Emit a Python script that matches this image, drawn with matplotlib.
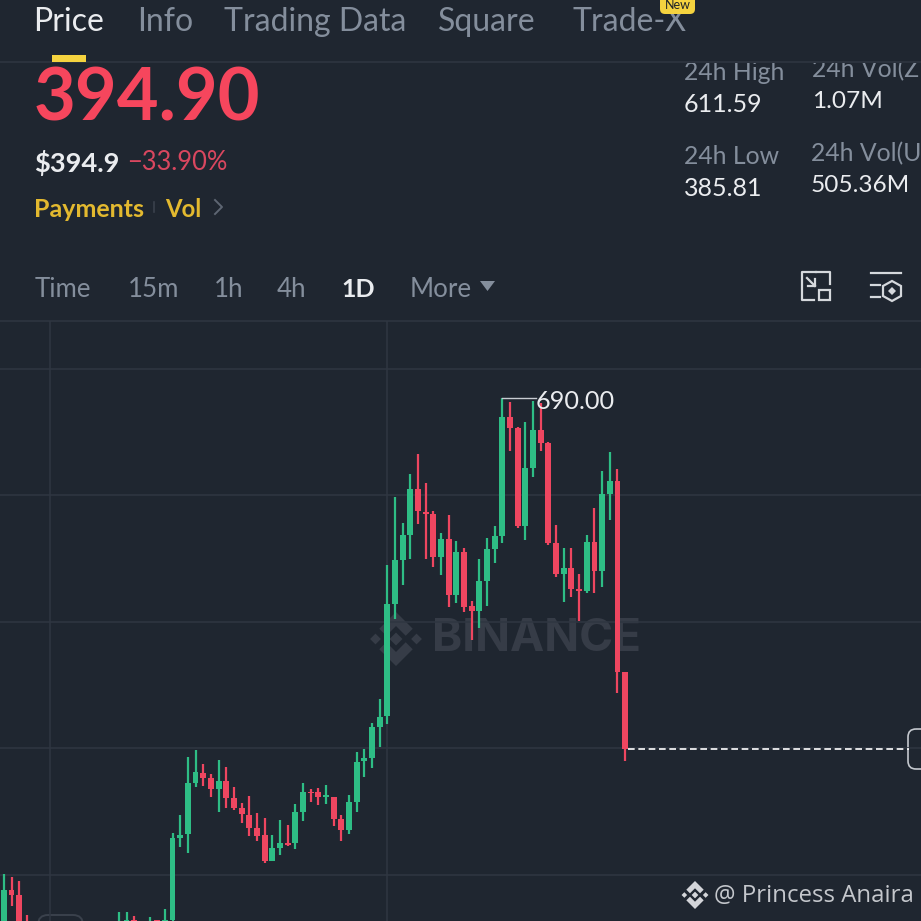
import matplotlib
matplotlib.use("Agg")
import matplotlib.pyplot as plt
from matplotlib.patches import Polygon, Rectangle, FancyBboxPatch

# Daily candles (days 4-14 and 18 sit below the crop)
days = [0, 1, 2, 3, 15, 16, 17, 19, 20, 21, 22, 23, 24, 25, 26, 27, 28, 29, 30, 31,
        32, 33, 34, 35, 36, 37, 38, 39, 40, 41, 42, 43, 44, 45, 46, 47, 48, 49, 50, 51,
        52, 53, 54, 55, 56, 57, 58, 59, 60, 61, 62, 63, 64, 65, 66, 67, 68, 69, 70, 71,
        72, 73, 74, 75, 76, 77, 78, 79, 80, 81]
opens = [246.1, 275.6, 271.4, 246.1, 240.2, 246.1, 250.3, 241.9, 250.3, 246.1, 250.3, 319.5, 322.6, 365.6, 374.5, 370.0, 361.0, 367.3, 352.9, 344.8,
         339.1, 327.9, 322.0, 300.1, 311.0, 315.5, 315.5, 341.4, 358.5, 358.0, 354.3, 354.3, 335.2, 326.2, 349.8, 384.1, 387.2, 412.8, 422.3, 516.7,
         553.8, 574.6, 613.4, 594.5, 592.9, 556.6, 571.3, 524.3, 560.3, 515.0, 511.1, 535.9, 563.3, 574.1, 674.1, 664.9, 582.5, 631.1, 663.2, 652.7,
         568.4, 542.3, 547.3, 529.4, 527.9, 568.7, 544.5, 609.7, 620.7, 459.2]
highs = [288.9, 286.8, 283.5, 254.6, 256.7, 257.1, 254.0, 252.6, 250.3, 259.4, 323.9, 339.1, 388.0, 393.6, 381.6, 373.4, 385.2, 379.6, 362.7, 348.7,
         355.1, 340.3, 336.6, 321.7, 334.6, 330.4, 347.9, 366.1, 360.5, 361.9, 363.9, 354.3, 339.1, 355.7, 391.9, 394.2, 416.1, 436.4, 549.6, 607.2,
         584.8, 626.3, 643.2, 619.0, 594.9, 576.3, 591.8, 569.6, 564.2, 519.5, 554.7, 572.1, 582.7, 690.0, 687.0, 666.2, 670.2, 687.6, 685.9, 653.0,
         583.1, 563.9, 563.7, 542.3, 575.1, 597.7, 628.8, 644.6, 630.3, 459.2]
lows = [237.7, 262.4, 237.7, 237.0, 237.0, 233.5, 237.0, 237.0, 240.0, 240.0, 246.1, 311.6, 307.1, 362.7, 363.6, 354.3, 341.6, 344.5, 343.1, 331.9,
        321.4, 317.2, 298.6, 299.8, 305.1, 312.7, 310.2, 334.1, 350.1, 347.5, 348.1, 329.6, 316.9, 323.1, 341.6, 370.5, 378.5, 396.4, 415.3, 503.8,
        533.0, 554.9, 584.2, 554.9, 548.2, 541.4, 514.5, 517.3, 510.2, 486.4, 496.2, 515.0, 551.0, 568.4, 645.5, 580.5, 570.7, 624.0, 645.5, 566.5,
        539.2, 518.4, 522.9, 502.4, 526.3, 526.3, 531.3, 587.5, 441.9, 384.6]
closes = [275.6, 271.4, 241.9, 237.7, 246.1, 250.3, 246.1, 247.8, 246.1, 250.3, 319.7, 322.2, 365.6, 374.9, 370.0, 361.0, 367.3, 352.9, 344.8, 339.4,
          327.9, 321.4, 300.1, 311.0, 315.5, 313.3, 341.4, 358.2, 357.1, 354.3, 356.0, 335.5, 326.2, 349.6, 383.8, 386.9, 412.8, 421.7, 516.7, 553.8,
          574.6, 613.4, 594.9, 592.9, 556.6, 571.3, 524.3, 560.3, 514.5, 511.1, 535.9, 563.3, 574.1, 674.1, 664.9, 582.5, 631.1, 663.2, 652.7, 568.4,
          541.8, 547.3, 529.6, 527.9, 568.7, 544.5, 609.7, 620.7, 459.2, 394.9]

grid_prices = [714.8, 608.6, 501.6, 395.3, 288.3]
grid_days = [6, 50]
last_price = 394.9
peak_price = 690.0
peak_day = 65

top_tabs = ["Price", "Info", "Trading Data", "Square", "Trade-X"]
intervals = ["Time", "15m", "1h", "4h", "1D", "More"]

BG = "#1f2630"
GRID = "#2f3641"
GREEN = "#2ebd85"
RED = "#ee4660"
GREY = "#848e9c"
WHITE = "#eaecef"
YELLOW = "#e3b92f"

plt.rcParams["font.family"] = ["Lato", "DejaVu Sans"]

fig = plt.figure(figsize=(9.21, 9.21), dpi=100, facecolor=BG)

# overlay in screen pixels for the app chrome
ui = fig.add_axes([0, 0, 1, 1], zorder=0)
ui.set_xlim(0, 921)
ui.set_ylim(921, 0)
ui.set_axis_off()

# price chart on top, same box, real scales
ax = fig.add_axes([0, 0, 1, 1], zorder=1)
ax.set_xlim(-0.5, 119.58)
ax.set_ylim(249.5, 1025.9)
ax.set_axis_off()
ax.patch.set_alpha(0)


def logo(cx, cy, r, color, zorder=1):
    center = [(0, -0.24), (0.24, 0), (0, 0.24), (-0.24, 0)]
    side = [(0, -0.2), (0.2, 0), (0, 0.2), (-0.2, 0)]
    top = [(0, -1), (0.62, -0.38), (0.36, -0.12), (0, -0.48), (-0.36, -0.12), (-0.62, -0.38)]
    bottom = [(x, -y) for x, y in top]
    shapes = [center, top, bottom,
              [(x - 0.76, y) for x, y in side],
              [(x + 0.76, y) for x, y in side]]
    for pts in shapes:
        ui.add_patch(Polygon([(cx + x * r, cy + y * r) for x, y in pts],
                             closed=True, fc=color, ec="none", zorder=zorder))


def label(x, y, s, size, color=GREY, weight="normal", ha="left", family=None, clip=None):
    t = ui.text(x, y, s, fontsize=size, color=color, fontweight=weight, ha=ha,
                va="center", family=family, zorder=5)
    if clip is not None:
        t.set_clip_path(clip)
        t.set_clip_on(True)
    return t


# grid
for p in grid_prices:
    ax.axhline(p, color=GRID, lw=1.1, zorder=1)
ax.vlines(grid_days, 249.5, 755.3, color=GRID, lw=1.1, zorder=1)
ui.axhline(321, color=GRID, lw=1.1)
ui.axhline(62, color=GRID, lw=1.1)

# watermark
logo(396, 639, 27, "#363c47")
ui.text(432, 639, "BINANCE", fontsize=33, color="#363c47", fontweight="bold", va="center",
        family=["Inter", "DejaVu Sans"], zorder=2)

# candles
for d, o, h, l, c in zip(days, opens, highs, lows, closes):
    col = GREEN if c >= o else RED
    ax.vlines(d, l, h, color=col, lw=1.6, zorder=3)
    ax.bar(d, abs(c - o), bottom=min(o, c), width=0.76, color=col, linewidth=0, zorder=4)

# peak marker and last price
ax.plot([peak_day, peak_day + 4.4], [peak_price, peak_price], color="#c8ccd2", lw=1, zorder=5)
ax.text(peak_day + 4.3, peak_price - 2.5, "690.00", fontsize=18.2, color=WHITE, va="center", zorder=6)
ax.hlines(last_price, days[-1] + 0.4, 118, color="white", lw=1.2, linestyles=(0, (4, 2.2)), zorder=5)
ui.add_patch(FancyBboxPatch((908, 729), 30, 40, boxstyle="round,pad=0,rounding_size=8",
                            fc="none", ec="#c4c8ce", lw=1.2, zorder=5))
ui.add_patch(FancyBboxPatch((38, 915), 45, 20, boxstyle="round,pad=0,rounding_size=10",
                            fc="none", ec="#3a414c", lw=1.4, zorder=2))

# top tabs
tab_x = [33, 137, 224, 438, 572]
for i, (x, s) in enumerate(zip(tab_x, top_tabs)):
    label(x, 22, s, 23, color=WHITE if i == 0 else GREY)
ui.add_patch(Rectangle((52, 55), 34, 7, fc="#f5d33f", ec="none", zorder=5))
ui.add_patch(FancyBboxPatch((660, -8), 35, 22, boxstyle="round,pad=0,rounding_size=5",
                            fc="#f5d33f", ec="none", zorder=6))
ui.text(677.5, 5, "New", fontsize=9, color="#1e2329", ha="center", va="center", zorder=7)

# price block
label(34, 100, "394.90", 52, color="#f6465d", weight="bold")
label(34, 163, "$394.9", 19.6, color=WHITE, weight="bold")
label(127, 162, "\u221233.90%", 18.4, color="#d9475f")
label(34, 209, "Payments", 18, color=YELLOW, weight="bold")
ui.plot([154, 154], [202, 212], color="#3a414c", lw=1.2)
label(165, 209, "Vol", 17.2, color=YELLOW, weight="bold")
ui.plot([215, 222, 215], [200, 207, 214], color="#5e6673", lw=1.4)

# 24h stats, the first row is cut by the divider
stats_clip = Rectangle((0, 63), 921, 900, transform=ui.transData)
label(684, 73, "24h High", 17.8, clip=stats_clip)
label(684, 105, "611.59", 18, color=WHITE)
label(812, 70, "24h Vol(ZEC)", 17.8, clip=stats_clip)
label(812, 102, "1.07M", 17.6, color=WHITE)
label(684, 157, "24h Low", 17.8)
label(684, 189, "385.81", 18, color=WHITE)
label(811, 154, "24h Vol(USDT)", 17.8)
label(811, 186, "505.36M", 17.6, color=WHITE)

# interval row
int_x = [35, 128, 214, 277, 341, 410]
for x, s in zip(int_x, intervals):
    if s == "1D":
        label(x, 289, s, 18, color=WHITE, weight="bold")
    else:
        label(x, 289, s, 18.6)
ui.add_patch(Polygon([(480, 281), (495, 281), (487.5, 291)], fc=GREY, ec="none"))

# toolbar icons
ico = "#d5d8dc"
ui.plot([816, 802, 802, 814], [272, 272, 300, 300], color=ico, lw=1.6)
ui.plot([816, 830, 830], [272, 272, 284], color=ico, lw=1.6)
ui.add_patch(Rectangle((819, 290), 11, 10, fc="none", ec=ico, lw=1.6))
ui.plot([807, 815], [278, 286], color=ico, lw=1.6)
ui.plot([808, 815, 815], [286, 286, 279], color=ico, lw=1.6)
ui.plot([871, 901], [273, 273], color=ico, lw=1.6)
ui.plot([871, 880], [285, 285], color=ico, lw=1.6)
ui.plot([871, 880], [297, 297], color=ico, lw=1.6)
ui.add_patch(Polygon([(892, 281), (901, 286), (901, 296), (892, 301), (883, 296), (883, 286)],
                     fc="none", ec=ico, lw=1.6))
ui.add_patch(Polygon([(892, 287), (896, 291), (892, 295), (888, 291)], fc=ico, ec="none"))

# footer mark
logo(695, 895, 14, "#d3d5d9", zorder=5)
label(714, 896, "@ Princess Anaira", 17.3, color="#c4c7cc", family=["Open Sans", "DejaVu Sans"])

fig.savefig("out.png", dpi=100, facecolor=BG)
